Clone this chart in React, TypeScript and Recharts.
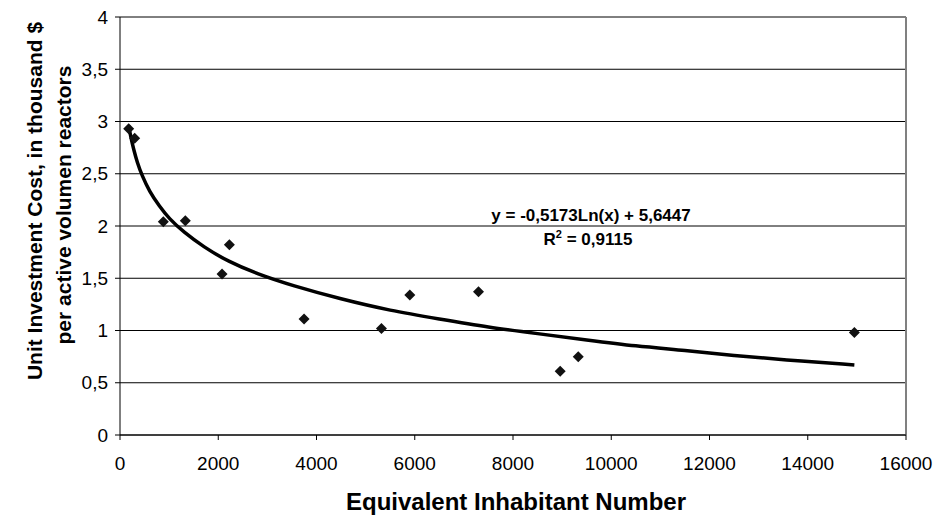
import {
  ComposedChart,
  Scatter,
  Line,
  XAxis,
  YAxis,
  CartesianGrid,
  ReferenceLine,
} from 'recharts'

// measured plants: equivalent inhabitants vs unit cost
const plantX = [177, 299, 882, 1330, 2077, 2226, 3747, 5322, 5900, 7298, 8961, 9328, 14949]
const plantCost = [2.93, 2.84, 2.04, 2.05, 1.54, 1.82, 1.11, 1.02, 1.34, 1.37, 0.61, 0.75, 0.98]

// trend curve
const trendX = [177, 220, 280, 350, 450, 600, 800, 1000, 1300, 1700, 2200, 2800, 3500, 4500, 5500, 6500, 7500, 8500, 9500, 10500, 11500, 12500, 13500, 14949]
const trendY = [2.96, 2.85, 2.73, 2.61, 2.48, 2.33, 2.19, 2.07, 1.94, 1.8, 1.66, 1.54, 1.43, 1.3, 1.19, 1.11, 1.03, 0.97, 0.91, 0.85, 0.81, 0.76, 0.72, 0.67]

const xTicks = [0, 2000, 4000, 6000, 8000, 10000, 12000, 14000, 16000]
const yTicks = [0, 0.5, 1, 1.5, 2, 2.5, 3, 3.5, 4]

const points = plantX.map((x, i) => ({ x, y: plantCost[i] }))
const trend = trendX.map((x, i) => ({ x, y: trendY[i] }))

const FONT = '"Liberation Sans", Arial, sans-serif'

const Diamond = (props: any) => {
  const { cx, cy } = props
  if (cx == null || cy == null) return null
  const r = 5.5
  return (
    <path
      d={`M${cx},${cy - r}L${cx + r},${cy}L${cx},${cy + r}L${cx - r},${cy}Z`}
      fill="#111"
    />
  )
}

export default function App() {
  return (
    <div style={{ position: 'absolute', left: 0, top: 0, width: 945, height: 517, background: '#fff' }}>
      <ComposedChart
        width={945}
        height={517}
        margin={{ top: 17, right: 39, bottom: 42, left: 60 }}
      >
        <CartesianGrid vertical={false} stroke="#000" strokeWidth={1} />
        <XAxis
          type="number"
          dataKey="x"
          domain={[0, 16000]}
          ticks={xTicks}
          interval={0}
          height={40}
          tickSize={5}
          tickMargin={17}
          stroke="#000"
          tick={{ fill: '#000', fontSize: 19, fontFamily: FONT }}
        />
        <YAxis
          type="number"
          dataKey="y"
          domain={[0, 4]}
          ticks={yTicks}
          interval={0}
          width={60}
          tickSize={5}
          tickMargin={7}
          stroke="#000"
          tick={{ fill: '#000', fontSize: 19, fontFamily: FONT }}
          tickFormatter={(v) => String(v).replace('.', ',')}
        />
        <ReferenceLine x={16000} stroke="#808080" strokeWidth={2} />
        <Line
          data={trend}
          dataKey="y"
          type="basis"
          stroke="#000"
          strokeWidth={3.5}
          dot={false}
          activeDot={false}
          isAnimationActive={false}
        />
        <Scatter
          data={points}
          dataKey="y"
          shape={Diamond}
          isAnimationActive={false}
        />
      </ComposedChart>
      <svg
        width={945}
        height={517}
        style={{ position: 'absolute', left: 0, top: 0, pointerEvents: 'none' }}
      >
        <g fontFamily={FONT} fontWeight="bold" fill="#000">
          <text x={34} y={201} fontSize={21} textAnchor="middle" dominantBaseline="central" transform="rotate(-90 34 201)">
            Unit Investment Cost,  in thousand $
          </text>
          <text x={63} y={205} fontSize={21} textAnchor="middle" dominantBaseline="central" transform="rotate(-90 63 205)">
            per active volumen reactors
          </text>
          <text x={516} y={510} fontSize={24} textAnchor="middle">
            Equivalent Inhabitant Number
          </text>
          <text x={591} y={221} fontSize={17} textAnchor="middle">
            y = -0,5173Ln(x) + 5,6447
          </text>
          <text x={588} y={245} fontSize={17} textAnchor="middle">
            R<tspan dy={-7} fontSize={11}>2</tspan>
            <tspan dy={7}> = 0,9115</tspan>
          </text>
        </g>
      </svg>
    </div>
  )
}
